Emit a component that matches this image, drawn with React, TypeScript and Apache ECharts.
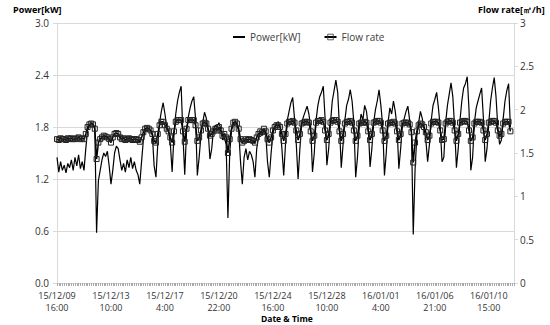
import React, { useEffect, useRef } from "react";
import * as echarts from "echarts";

const TICK_LABELS = [
  "15/12/09\n16:00",
  "15/12/13\n10:00",
  "15/12/17\n4:00",
  "15/12/20\n22:00",
  "15/12/24\n16:00",
  "15/12/28\n10:00",
  "16/01/01\n4:00",
  "16/01/06\n21:00",
  "16/01/10\n15:00",
];
const CATEGORY_COUNT = 255;
const LABEL_STEP = 30;

const POWER = [
  1.45, 1.28, 1.40, 1.30, 1.36, 1.27, 1.38, 1.33, 1.42, 1.30, 1.45, 1.35, 1.48, 1.32, 1.40, 1.30,
  1.55, 1.76, 1.82, 1.84, 1.83, 1.80,
  0.58, 1.18, 1.30, 1.42, 1.50, 1.46, 1.52, 1.35,
  1.14, 1.30, 1.50, 1.58, 1.55, 1.42, 1.30, 1.38,
  1.28, 1.42, 1.33, 1.45, 1.32, 1.40, 1.30, 1.25,
  1.14, 1.40, 1.65, 1.76, 1.79, 1.78, 1.76, 1.70,
  1.35, 1.22, 1.60, 1.85, 1.98, 2.08, 1.95, 1.80,
  1.76, 1.60, 1.28, 1.70, 1.95, 2.10, 2.20, 2.27,
  1.70, 1.25, 1.75, 1.92, 2.02, 2.10, 2.15, 1.90,
  1.24, 1.45, 1.70, 1.85, 1.97, 1.90, 1.75, 1.43,
  1.55, 1.78, 1.82, 1.80, 1.85, 1.78, 1.65, 1.68,
  1.60, 0.75, 1.50, 1.76, 1.84, 1.86, 1.82, 1.75,
  1.40, 1.14, 1.45, 1.55, 1.42, 1.52, 1.48, 1.40,
  1.22, 1.55, 1.68, 1.74, 1.70, 1.78, 1.72, 1.40,
  1.22, 1.50, 1.72, 1.80, 1.84, 1.86, 1.80, 1.55, 1.24, 1.60,
  1.88, 1.98, 2.08, 2.14, 1.90, 1.60, 1.20, 1.55,
  1.85, 1.92, 1.98, 2.04, 1.95, 1.80, 1.28, 1.50,
  1.88, 2.05, 2.15, 2.20, 2.27, 1.90, 1.36, 1.55,
  1.85, 2.10, 2.22, 2.34, 2.20, 1.80, 1.33, 1.60,
  1.88, 2.05, 2.12, 2.23, 2.10, 1.85, 1.22, 1.45,
  1.80, 1.95, 1.88, 2.05, 1.98, 1.80, 1.34, 1.55,
  1.85, 2.00, 2.10, 2.23, 2.05, 1.82, 1.24, 1.50,
  1.85, 2.02, 1.95, 2.10, 1.98, 1.80, 1.32, 1.55,
  1.82, 1.90, 1.98, 2.04, 1.88, 1.75, 0.56, 1.30,
  1.70, 1.85, 1.98, 1.90, 1.78, 1.65, 1.40, 1.60,
  1.88, 2.05, 2.12, 2.20, 2.02, 1.80, 1.40, 1.45,
  1.85, 2.05, 2.18, 2.31, 2.15, 1.80, 1.33, 1.55,
  1.88, 2.10, 2.25, 2.30, 2.38, 2.00, 1.30, 1.45,
  1.85, 2.02, 2.10, 2.18, 2.25, 1.90, 1.40, 1.55,
  1.85, 2.10, 2.25, 2.37, 2.15, 1.80, 1.60, 1.65,
  1.90, 2.10, 2.22, 2.30, 1.80,
];

const FLOW = [
  1.66, 1.65, 1.67, 1.66, 1.66, 1.65, 1.67, 1.66, 1.67, 1.66, 1.66, 1.67, 1.68, 1.66, 1.67, 1.66,
  1.72, 1.80, 1.83, 1.84, 1.83, 1.78,
  1.43, 1.62, 1.66, 1.68, 1.70, 1.69, 1.68, 1.66,
  1.62, 1.68, 1.72, 1.73, 1.72, 1.68, 1.66, 1.67,
  1.65, 1.66, 1.67, 1.66, 1.65, 1.66, 1.66, 1.65,
  1.63, 1.68, 1.74, 1.78, 1.79, 1.78, 1.76, 1.72,
  1.64, 1.62, 1.72, 1.82, 1.86, 1.86, 1.82, 1.78,
  1.75, 1.68, 1.62, 1.75, 1.86, 1.88, 1.88, 1.88,
  1.75, 1.63, 1.78, 1.88, 1.88, 1.88, 1.88, 1.82,
  1.64, 1.68, 1.76, 1.84, 1.85, 1.84, 1.78, 1.70,
  1.72, 1.75, 1.78, 1.76, 1.80, 1.76, 1.70, 1.72,
  1.68, 1.50, 1.66, 1.78, 1.85, 1.86, 1.84, 1.78,
  1.66, 1.62, 1.64, 1.66, 1.65, 1.66, 1.65, 1.64,
  1.62, 1.68, 1.72, 1.75, 1.74, 1.78, 1.75, 1.66,
  1.62, 1.68, 1.76, 1.80, 1.82, 1.82, 1.80, 1.72, 1.64, 1.72,
  1.84, 1.86, 1.86, 1.87, 1.85, 1.76, 1.65, 1.72,
  1.84, 1.85, 1.86, 1.86, 1.85, 1.75, 1.64, 1.70,
  1.85, 1.87, 1.87, 1.88, 1.86, 1.76, 1.65, 1.72,
  1.85, 1.87, 1.88, 1.88, 1.86, 1.75, 1.64, 1.72,
  1.84, 1.86, 1.86, 1.87, 1.85, 1.76, 1.64, 1.70,
  1.84, 1.85, 1.85, 1.86, 1.85, 1.75, 1.65, 1.72,
  1.85, 1.86, 1.87, 1.87, 1.85, 1.76, 1.64, 1.70,
  1.84, 1.85, 1.85, 1.86, 1.84, 1.75, 1.65, 1.72,
  1.84, 1.85, 1.85, 1.85, 1.83, 1.74, 1.39, 1.62,
  1.75, 1.82, 1.84, 1.83, 1.80, 1.74, 1.65, 1.70,
  1.84, 1.86, 1.86, 1.86, 1.85, 1.76, 1.65, 1.66,
  1.84, 1.86, 1.87, 1.87, 1.85, 1.76, 1.64, 1.72,
  1.85, 1.86, 1.87, 1.87, 1.86, 1.76, 1.64, 1.68,
  1.84, 1.86, 1.86, 1.86, 1.85, 1.76, 1.65, 1.72,
  1.85, 1.86, 1.87, 1.87, 1.85, 1.76, 1.70, 1.72,
  1.84, 1.86, 1.86, 1.86, 1.75,
];

const FONT = '"Open Sans", "Liberation Sans", sans-serif';
const LABEL_COLOR = "#333";
const GRID_COLOR = "#d9d9d9";

export default function App() {
  const ref = useRef<HTMLDivElement>(null);

  useEffect(() => {
    if (!ref.current) return;
    const chart = echarts.init(ref.current, null, { renderer: "svg" });
    const categories = Array.from({ length: CATEGORY_COUNT }, (_, i) => String(i));

    chart.setOption({
      animation: false,
      backgroundColor: "#fff",
      textStyle: { fontFamily: FONT },
      grid: { left: 57, right: 36, top: 23, bottom: 42, containLabel: false },
      legend: {
        left: 227,
        top: 27,
        itemWidth: 12,
        itemHeight: 7,
        itemGap: 23,
        textStyle: { fontSize: 10, color: "#404040", fontFamily: FONT },
        data: [
          {
            name: "Power[kW]",
            itemStyle: { color: "transparent", borderColor: "transparent", borderWidth: 0 },
          },
          {
            name: "Flow rate",
            itemStyle: { color: "transparent", borderColor: "#333", borderWidth: 0.8 },
          },
        ],
      },
      xAxis: {
        type: "category",
        data: categories,
        boundaryGap: false,
        axisLine: { lineStyle: { color: GRID_COLOR } },
        axisTick: { show: true, interval: 0, length: 3, lineStyle: { color: "#aaa" } },
        axisLabel: {
          interval: LABEL_STEP - 1,
          fontSize: 9,
          color: LABEL_COLOR,
          lineHeight: 11.5,
          margin: 7,
          fontFamily: FONT,
          formatter: (_v: string, idx: number) =>
            idx % LABEL_STEP === 0 ? TICK_LABELS[idx / LABEL_STEP] ?? "" : "",
        },
        splitLine: { show: false },
      },
      yAxis: [
        {
          type: "value",
          min: 0,
          max: 3,
          interval: 0.6,
          position: "left",
          axisLine: { show: true, lineStyle: { color: GRID_COLOR } },
          axisTick: { show: true, length: 4, lineStyle: { color: GRID_COLOR } },
          axisLabel: {
            fontSize: 10,
            color: LABEL_COLOR,
            margin: 8,
            fontFamily: FONT,
            formatter: (v: number) => v.toFixed(1),
          },
          splitLine: { show: true, lineStyle: { color: GRID_COLOR, width: 1 } },
        },
        {
          type: "value",
          min: 0,
          max: 3,
          interval: 0.5,
          position: "right",
          axisLine: { show: true, lineStyle: { color: GRID_COLOR } },
          axisTick: { show: true, length: 4, lineStyle: { color: GRID_COLOR } },
          axisLabel: { fontSize: 10, color: LABEL_COLOR, margin: 6, fontFamily: FONT },
          splitLine: { show: false },
        },
      ],
      graphic: [
        {
          type: "text",
          left: 13,
          top: 5,
          style: { text: "Power[kW]", font: `bold 9px ${FONT}`, fill: "#000" },
        },
        {
          type: "text",
          left: 478,
          top: 5,
          style: { text: "Flow rate[㎥/h]", font: `bold 9px ${FONT}`, fill: "#000" },
        },
        {
          type: "text",
          left: 261,
          top: 314,
          style: { text: "Date & Time", font: `bold 8.5px ${FONT}`, fill: "#000" },
        },
      ],
      series: [
        {
          name: "Power[kW]",
          type: "line",
          yAxisIndex: 0,
          data: POWER,
          symbol: "none",
          lineStyle: { color: "#000", width: 1.2 },
          itemStyle: { color: "#000" },
          emphasis: { disabled: true },
        },
        {
          name: "Flow rate",
          type: "line",
          yAxisIndex: 1,
          data: FLOW,
          symbol: "rect",
          symbolSize: 5,
          showSymbol: true,
          showAllSymbol: true,
          lineStyle: { color: "#000", width: 1.5 },
          itemStyle: { color: "transparent", borderColor: "#222", borderWidth: 1 },
          emphasis: { disabled: true },
        },
      ],
    });

    return () => chart.dispose();
  }, []);

  return (
    <div
      ref={ref}
      style={{ position: "fixed", left: 0, top: 0, width: 550, height: 325, background: "#fff" }}
    />
  );
}
